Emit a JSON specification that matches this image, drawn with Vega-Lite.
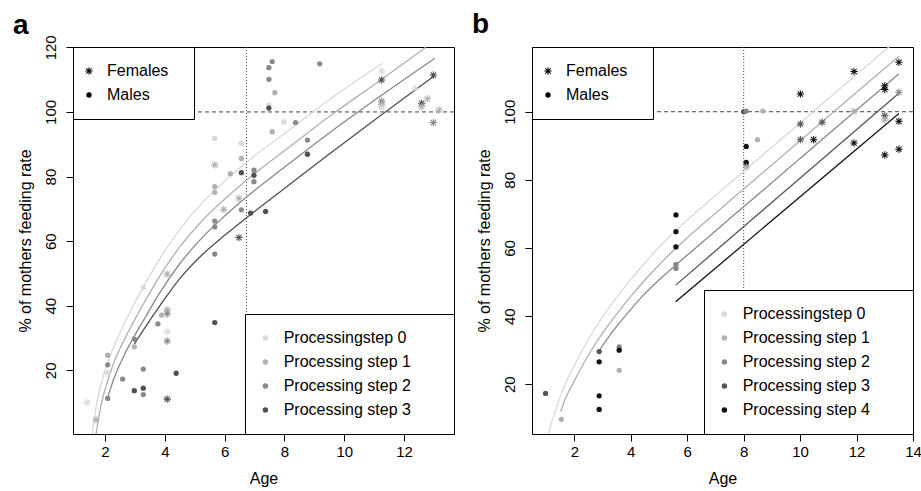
{
  "$schema": "https://vega.github.io/schema/vega-lite/v6.json",
  "padding": {"left": 12, "top": 10, "right": 0, "bottom": 0},
  "spacing": 16,
  "datasets": {
    "points": [
      {"panel": "a", "sex": "Females", "step": "Processingstep 0", "age": 1.40, "value": 10.1},
      {"panel": "a", "sex": "Females", "step": "Processing step 1", "age": 1.70, "value": 4.7},
      {"panel": "a", "sex": "Males", "step": "Processing step 1", "age": 2.09, "value": 24.7},
      {"panel": "a", "sex": "Males", "step": "Processing step 2", "age": 2.09, "value": 21.7},
      {"panel": "a", "sex": "Males", "step": "Processingstep 0", "age": 2.09, "value": 19.2},
      {"panel": "a", "sex": "Males", "step": "Processing step 2", "age": 2.09, "value": 11.3},
      {"panel": "a", "sex": "Males", "step": "Processing step 2", "age": 2.59, "value": 17.3},
      {"panel": "a", "sex": "Males", "step": "Processing step 2", "age": 2.98, "value": 29.7},
      {"panel": "a", "sex": "Males", "step": "Processing step 1", "age": 2.98, "value": 27.3},
      {"panel": "a", "sex": "Males", "step": "Processing step 3", "age": 2.98, "value": 13.7},
      {"panel": "a", "sex": "Males", "step": "Processingstep 0", "age": 3.28, "value": 45.7},
      {"panel": "a", "sex": "Males", "step": "Processing step 2", "age": 3.28, "value": 20.4},
      {"panel": "a", "sex": "Males", "step": "Processing step 3", "age": 3.28, "value": 14.5},
      {"panel": "a", "sex": "Males", "step": "Processing step 2", "age": 3.28, "value": 12.5},
      {"panel": "a", "sex": "Males", "step": "Processing step 2", "age": 3.77, "value": 34.4},
      {"panel": "a", "sex": "Males", "step": "Processing step 1", "age": 3.89, "value": 37.1},
      {"panel": "a", "sex": "Females", "step": "Processing step 1", "age": 4.08, "value": 49.8},
      {"panel": "a", "sex": "Females", "step": "Processing step 1", "age": 4.08, "value": 38.8},
      {"panel": "a", "sex": "Females", "step": "Processing step 2", "age": 4.08, "value": 37.5},
      {"panel": "a", "sex": "Females", "step": "Processingstep 0", "age": 4.08, "value": 32.0},
      {"panel": "a", "sex": "Females", "step": "Processing step 2", "age": 4.08, "value": 29.1},
      {"panel": "a", "sex": "Females", "step": "Processing step 3", "age": 4.08, "value": 11.1},
      {"panel": "a", "sex": "Males", "step": "Processing step 3", "age": 4.38, "value": 19.1},
      {"panel": "a", "sex": "Males", "step": "Processingstep 0", "age": 5.67, "value": 91.8},
      {"panel": "a", "sex": "Females", "step": "Processing step 1", "age": 5.67, "value": 83.6},
      {"panel": "a", "sex": "Males", "step": "Processing step 1", "age": 5.67, "value": 76.9},
      {"panel": "a", "sex": "Males", "step": "Processing step 1", "age": 5.67, "value": 75.1},
      {"panel": "a", "sex": "Males", "step": "Processing step 2", "age": 5.67, "value": 66.2},
      {"panel": "a", "sex": "Males", "step": "Processing step 2", "age": 5.67, "value": 64.4},
      {"panel": "a", "sex": "Males", "step": "Processing step 2", "age": 5.67, "value": 56.0},
      {"panel": "a", "sex": "Males", "step": "Processing step 3", "age": 5.67, "value": 34.8},
      {"panel": "a", "sex": "Males", "step": "Processing step 1", "age": 6.19, "value": 80.9},
      {"panel": "a", "sex": "Females", "step": "Processing step 1", "age": 5.97, "value": 69.8},
      {"panel": "a", "sex": "Females", "step": "Processing step 1", "age": 6.48, "value": 73.3},
      {"panel": "a", "sex": "Females", "step": "Processing step 3", "age": 6.48, "value": 61.1},
      {"panel": "a", "sex": "Males", "step": "Processingstep 0", "age": 6.56, "value": 90.3},
      {"panel": "a", "sex": "Males", "step": "Processing step 1", "age": 6.56, "value": 85.6},
      {"panel": "a", "sex": "Males", "step": "Processing step 3", "age": 6.56, "value": 81.2},
      {"panel": "a", "sex": "Males", "step": "Processing step 2", "age": 6.56, "value": 69.7},
      {"panel": "a", "sex": "Males", "step": "Processing step 3", "age": 6.87, "value": 68.7},
      {"panel": "a", "sex": "Males", "step": "Processing step 2", "age": 6.98, "value": 82.0},
      {"panel": "a", "sex": "Males", "step": "Processing step 3", "age": 6.98, "value": 80.4},
      {"panel": "a", "sex": "Males", "step": "Processing step 2", "age": 6.98, "value": 78.4},
      {"panel": "a", "sex": "Males", "step": "Processing step 3", "age": 7.37, "value": 69.2},
      {"panel": "a", "sex": "Males", "step": "Processing step 2", "age": 7.48, "value": 113.7},
      {"panel": "a", "sex": "Males", "step": "Processing step 2", "age": 7.48, "value": 110.1},
      {"panel": "a", "sex": "Males", "step": "Processingstep 0", "age": 7.48, "value": 102.1},
      {"panel": "a", "sex": "Males", "step": "Processing step 3", "age": 7.48, "value": 101.2},
      {"panel": "a", "sex": "Males", "step": "Processing step 2", "age": 7.59, "value": 115.6},
      {"panel": "a", "sex": "Males", "step": "Processing step 1", "age": 7.68, "value": 106.0},
      {"panel": "a", "sex": "Males", "step": "Processing step 1", "age": 7.59, "value": 93.9},
      {"panel": "a", "sex": "Males", "step": "Processingstep 0", "age": 7.98, "value": 96.9},
      {"panel": "a", "sex": "Males", "step": "Processing step 2", "age": 8.37, "value": 96.7},
      {"panel": "a", "sex": "Males", "step": "Processing step 2", "age": 9.18, "value": 114.9},
      {"panel": "a", "sex": "Males", "step": "Processing step 2", "age": 8.77, "value": 91.3},
      {"panel": "a", "sex": "Males", "step": "Processing step 3", "age": 8.77, "value": 86.9},
      {"panel": "a", "sex": "Females", "step": "Processingstep 0", "age": 11.25, "value": 112.7},
      {"panel": "a", "sex": "Females", "step": "Processing step 3", "age": 11.25, "value": 109.9},
      {"panel": "a", "sex": "Females", "step": "Processing step 2", "age": 11.25, "value": 103.3},
      {"panel": "a", "sex": "Females", "step": "Processing step 1", "age": 11.25, "value": 102.2},
      {"panel": "a", "sex": "Females", "step": "Processingstep 0", "age": 11.25, "value": 101.3},
      {"panel": "a", "sex": "Females", "step": "Processingstep 0", "age": 12.37, "value": 107.3},
      {"panel": "a", "sex": "Females", "step": "Processing step 3", "age": 12.59, "value": 102.7},
      {"panel": "a", "sex": "Females", "step": "Processing step 1", "age": 12.59, "value": 101.6},
      {"panel": "a", "sex": "Females", "step": "Processing step 1", "age": 12.78, "value": 104.1},
      {"panel": "a", "sex": "Females", "step": "Processing step 3", "age": 12.98, "value": 111.4},
      {"panel": "a", "sex": "Females", "step": "Processing step 2", "age": 12.98, "value": 96.7},
      {"panel": "a", "sex": "Females", "step": "Processing step 1", "age": 13.17, "value": 100.6},
      {"panel": "b", "sex": "Males", "step": "Processing step 3", "age": 0.98, "value": 17.3},
      {"panel": "b", "sex": "Males", "step": "Processing step 1", "age": 1.54, "value": 9.7},
      {"panel": "b", "sex": "Males", "step": "Processing step 3", "age": 2.88, "value": 29.6},
      {"panel": "b", "sex": "Males", "step": "Processing step 4", "age": 2.88, "value": 26.6},
      {"panel": "b", "sex": "Males", "step": "Processing step 4", "age": 2.88, "value": 16.6},
      {"panel": "b", "sex": "Males", "step": "Processing step 4", "age": 2.88, "value": 12.6},
      {"panel": "b", "sex": "Males", "step": "Processing step 2", "age": 3.59, "value": 31.0},
      {"panel": "b", "sex": "Males", "step": "Processing step 4", "age": 3.59, "value": 30.0},
      {"panel": "b", "sex": "Males", "step": "Processing step 1", "age": 3.59, "value": 24.1},
      {"panel": "b", "sex": "Males", "step": "Processing step 4", "age": 5.6, "value": 69.7},
      {"panel": "b", "sex": "Males", "step": "Processing step 4", "age": 5.6, "value": 64.8},
      {"panel": "b", "sex": "Males", "step": "Processing step 4", "age": 5.6, "value": 60.3},
      {"panel": "b", "sex": "Males", "step": "Processing step 2", "age": 5.6, "value": 55.2},
      {"panel": "b", "sex": "Males", "step": "Processing step 2", "age": 5.6, "value": 54.0},
      {"panel": "b", "sex": "Males", "step": "Processing step 3", "age": 8.0, "value": 100.0},
      {"panel": "b", "sex": "Males", "step": "Processing step 2", "age": 8.09, "value": 100.2},
      {"panel": "b", "sex": "Males", "step": "Processing step 1", "age": 8.68, "value": 100.2},
      {"panel": "b", "sex": "Males", "step": "Processing step 1", "age": 8.49, "value": 91.8},
      {"panel": "b", "sex": "Males", "step": "Processing step 4", "age": 8.09, "value": 89.8},
      {"panel": "b", "sex": "Males", "step": "Processing step 4", "age": 8.09, "value": 85.1},
      {"panel": "b", "sex": "Males", "step": "Processing step 4", "age": 8.09, "value": 84.6},
      {"panel": "b", "sex": "Females", "step": "Processing step 1", "age": 8.09, "value": 83.8},
      {"panel": "b", "sex": "Females", "step": "Processing step 4", "age": 10.01, "value": 105.2},
      {"panel": "b", "sex": "Females", "step": "Processing step 3", "age": 10.01, "value": 96.4},
      {"panel": "b", "sex": "Females", "step": "Processing step 3", "age": 10.01, "value": 91.8},
      {"panel": "b", "sex": "Females", "step": "Processing step 4", "age": 10.48, "value": 91.8},
      {"panel": "b", "sex": "Females", "step": "Processing step 3", "age": 10.78, "value": 96.9},
      {"panel": "b", "sex": "Females", "step": "Processing step 4", "age": 11.91, "value": 111.8},
      {"panel": "b", "sex": "Females", "step": "Processing step 1", "age": 11.91, "value": 100.1},
      {"panel": "b", "sex": "Females", "step": "Processing step 4", "age": 11.91, "value": 90.8},
      {"panel": "b", "sex": "Females", "step": "Processing step 4", "age": 13.0, "value": 107.6},
      {"panel": "b", "sex": "Females", "step": "Processing step 4", "age": 13.0, "value": 106.5},
      {"panel": "b", "sex": "Females", "step": "Processing step 3", "age": 13.0, "value": 98.8},
      {"panel": "b", "sex": "Females", "step": "Processing step 1", "age": 13.0, "value": 97.6},
      {"panel": "b", "sex": "Females", "step": "Processing step 4", "age": 13.0, "value": 87.3},
      {"panel": "b", "sex": "Females", "step": "Processing step 4", "age": 13.5, "value": 114.5},
      {"panel": "b", "sex": "Females", "step": "Processing step 2", "age": 13.5, "value": 105.7},
      {"panel": "b", "sex": "Females", "step": "Processing step 4", "age": 13.5, "value": 97.2},
      {"panel": "b", "sex": "Females", "step": "Processing step 4", "age": 13.5, "value": 89.0}
    ],
    "curves": [
      {"panel": "a", "step": "Processingstep 0", "age": 1.55, "value": -1.0},
      {"panel": "a", "step": "Processingstep 0", "age": 1.7, "value": 8.5},
      {"panel": "a", "step": "Processingstep 0", "age": 1.85, "value": 15.0},
      {"panel": "a", "step": "Processingstep 0", "age": 2.0, "value": 20.0},
      {"panel": "a", "step": "Processingstep 0", "age": 2.3, "value": 27.5},
      {"panel": "a", "step": "Processingstep 0", "age": 2.7, "value": 35.5},
      {"panel": "a", "step": "Processingstep 0", "age": 3.27, "value": 45.6},
      {"panel": "a", "step": "Processingstep 0", "age": 3.85, "value": 54.8},
      {"panel": "a", "step": "Processingstep 0", "age": 4.5, "value": 63.6},
      {"panel": "a", "step": "Processingstep 0", "age": 5.25, "value": 71.9},
      {"panel": "a", "step": "Processingstep 0", "age": 6.0, "value": 78.5},
      {"panel": "a", "step": "Processingstep 0", "age": 7.0, "value": 86.4},
      {"panel": "a", "step": "Processingstep 0", "age": 8.0, "value": 93.3},
      {"panel": "a", "step": "Processingstep 0", "age": 9.5, "value": 103.8},
      {"panel": "a", "step": "Processingstep 0", "age": 11.27, "value": 115.1},
      {"panel": "a", "step": "Processing step 1", "age": 1.68, "value": -1.0},
      {"panel": "a", "step": "Processing step 1", "age": 1.85, "value": 8.5},
      {"panel": "a", "step": "Processing step 1", "age": 2.0, "value": 14.0},
      {"panel": "a", "step": "Processing step 1", "age": 2.3, "value": 22.5},
      {"panel": "a", "step": "Processing step 1", "age": 2.7, "value": 30.5},
      {"panel": "a", "step": "Processing step 1", "age": 3.27, "value": 40.3},
      {"panel": "a", "step": "Processing step 1", "age": 3.85, "value": 49.5},
      {"panel": "a", "step": "Processing step 1", "age": 4.5, "value": 58.2},
      {"panel": "a", "step": "Processing step 1", "age": 5.25, "value": 66.3},
      {"panel": "a", "step": "Processing step 1", "age": 6.0, "value": 73.0},
      {"panel": "a", "step": "Processing step 1", "age": 7.0, "value": 80.9},
      {"panel": "a", "step": "Processing step 1", "age": 8.0, "value": 88.0},
      {"panel": "a", "step": "Processing step 1", "age": 9.5, "value": 98.6},
      {"panel": "a", "step": "Processing step 1", "age": 11.27, "value": 110.2},
      {"panel": "a", "step": "Processing step 1", "age": 12.73, "value": 120.0},
      {"panel": "a", "step": "Processing step 2", "age": 2.07, "value": 11.1},
      {"panel": "a", "step": "Processing step 2", "age": 2.3, "value": 17.5},
      {"panel": "a", "step": "Processing step 2", "age": 2.7, "value": 25.8},
      {"panel": "a", "step": "Processing step 2", "age": 3.27, "value": 35.2},
      {"panel": "a", "step": "Processing step 2", "age": 3.85, "value": 44.3},
      {"panel": "a", "step": "Processing step 2", "age": 4.5, "value": 53.0},
      {"panel": "a", "step": "Processing step 2", "age": 5.25, "value": 61.1},
      {"panel": "a", "step": "Processing step 2", "age": 6.0, "value": 67.8},
      {"panel": "a", "step": "Processing step 2", "age": 7.0, "value": 75.7},
      {"panel": "a", "step": "Processing step 2", "age": 8.0, "value": 82.9},
      {"panel": "a", "step": "Processing step 2", "age": 9.5, "value": 93.5},
      {"panel": "a", "step": "Processing step 2", "age": 11.27, "value": 105.3},
      {"panel": "a", "step": "Processing step 2", "age": 13.03, "value": 116.6},
      {"panel": "a", "step": "Processing step 3", "age": 2.98, "value": 28.1},
      {"panel": "a", "step": "Processing step 3", "age": 3.27, "value": 32.3},
      {"panel": "a", "step": "Processing step 3", "age": 3.85, "value": 40.2},
      {"panel": "a", "step": "Processing step 3", "age": 4.5, "value": 48.4},
      {"panel": "a", "step": "Processing step 3", "age": 5.25, "value": 55.8},
      {"panel": "a", "step": "Processing step 3", "age": 6.0, "value": 61.8},
      {"panel": "a", "step": "Processing step 3", "age": 7.0, "value": 69.2},
      {"panel": "a", "step": "Processing step 3", "age": 8.0, "value": 76.3},
      {"panel": "a", "step": "Processing step 3", "age": 9.5, "value": 87.0},
      {"panel": "a", "step": "Processing step 3", "age": 11.27, "value": 99.3},
      {"panel": "a", "step": "Processing step 3", "age": 13.03, "value": 111.3},
      {"panel": "b", "step": "Processingstep 0", "age": 1.0, "value": 2.5},
      {"panel": "b", "step": "Processingstep 0", "age": 1.087, "value": 5.5},
      {"panel": "b", "step": "Processingstep 0", "age": 1.3, "value": 11.5},
      {"panel": "b", "step": "Processingstep 0", "age": 1.6, "value": 18.5},
      {"panel": "b", "step": "Processingstep 0", "age": 2.0, "value": 25.5},
      {"panel": "b", "step": "Processingstep 0", "age": 2.5, "value": 33.2},
      {"panel": "b", "step": "Processingstep 0", "age": 3.0, "value": 39.8},
      {"panel": "b", "step": "Processingstep 0", "age": 3.5, "value": 45.5},
      {"panel": "b", "step": "Processingstep 0", "age": 4.0, "value": 50.8},
      {"panel": "b", "step": "Processingstep 0", "age": 4.5, "value": 55.6},
      {"panel": "b", "step": "Processingstep 0", "age": 5.0, "value": 60.2},
      {"panel": "b", "step": "Processingstep 0", "age": 5.5, "value": 64.3},
      {"panel": "b", "step": "Processingstep 0", "age": 6.0, "value": 68.2},
      {"panel": "b", "step": "Processingstep 0", "age": 7.0, "value": 75.4},
      {"panel": "b", "step": "Processingstep 0", "age": 8.0, "value": 82.5},
      {"panel": "b", "step": "Processingstep 0", "age": 10.0, "value": 96.7},
      {"panel": "b", "step": "Processingstep 0", "age": 12.0, "value": 110.9},
      {"panel": "b", "step": "Processingstep 0", "age": 13.3, "value": 120.1},
      {"panel": "b", "step": "Processing step 1", "age": 1.52, "value": 12.0},
      {"panel": "b", "step": "Processing step 1", "age": 1.6, "value": 14.0},
      {"panel": "b", "step": "Processing step 1", "age": 2.0, "value": 21.0},
      {"panel": "b", "step": "Processing step 1", "age": 2.5, "value": 28.6},
      {"panel": "b", "step": "Processing step 1", "age": 3.0, "value": 35.0},
      {"panel": "b", "step": "Processing step 1", "age": 3.5, "value": 40.6},
      {"panel": "b", "step": "Processing step 1", "age": 4.0, "value": 45.8},
      {"panel": "b", "step": "Processing step 1", "age": 4.5, "value": 50.6},
      {"panel": "b", "step": "Processing step 1", "age": 5.0, "value": 55.0},
      {"panel": "b", "step": "Processing step 1", "age": 5.5, "value": 59.2},
      {"panel": "b", "step": "Processing step 1", "age": 6.0, "value": 63.0},
      {"panel": "b", "step": "Processing step 1", "age": 7.0, "value": 70.2},
      {"panel": "b", "step": "Processing step 1", "age": 8.0, "value": 77.3},
      {"panel": "b", "step": "Processing step 1", "age": 10.0, "value": 91.5},
      {"panel": "b", "step": "Processing step 1", "age": 12.0, "value": 105.7},
      {"panel": "b", "step": "Processing step 1", "age": 13.5, "value": 116.3},
      {"panel": "b", "step": "Processing step 2", "age": 2.9, "value": 30.0},
      {"panel": "b", "step": "Processing step 2", "age": 3.0, "value": 31.3},
      {"panel": "b", "step": "Processing step 2", "age": 3.5, "value": 37.0},
      {"panel": "b", "step": "Processing step 2", "age": 4.0, "value": 42.0},
      {"panel": "b", "step": "Processing step 2", "age": 4.5, "value": 46.6},
      {"panel": "b", "step": "Processing step 2", "age": 5.0, "value": 50.6},
      {"panel": "b", "step": "Processing step 2", "age": 5.5, "value": 54.3},
      {"panel": "b", "step": "Processing step 2", "age": 6.0, "value": 57.9},
      {"panel": "b", "step": "Processing step 2", "age": 7.0, "value": 65.0},
      {"panel": "b", "step": "Processing step 2", "age": 8.0, "value": 72.1},
      {"panel": "b", "step": "Processing step 2", "age": 10.0, "value": 86.3},
      {"panel": "b", "step": "Processing step 2", "age": 12.0, "value": 100.5},
      {"panel": "b", "step": "Processing step 2", "age": 13.5, "value": 111.1},
      {"panel": "b", "step": "Processing step 3", "age": 5.59, "value": 49.1},
      {"panel": "b", "step": "Processing step 3", "age": 13.5, "value": 105.4},
      {"panel": "b", "step": "Processing step 4", "age": 5.59, "value": 44.2},
      {"panel": "b", "step": "Processing step 4", "age": 13.5, "value": 99.5}
    ],
    "refs": [
      {"panel": "a", "hline": 100, "vline": 6.73},
      {"panel": "b", "hline": 100, "vline": 8.0}
    ]
  },
  "hconcat": [
    {
      "width": 381,
      "height": 387,
      "title": {"text": "a", "anchor": "start", "frame": "group", "dx": -60, "offset": -27, "baseline": "alphabetic", "fontSize": 28, "fontWeight": "bold", "font": "Liberation Sans", "color": "black"},
      "layer": [
        {
          "data": {"name": "refs"},
          "transform": [{"filter": "datum.panel == 'a'"}],
          "mark": {"type": "rule", "strokeDash": [4, 3], "color": "#444444", "strokeWidth": 1},
          "encoding": {"y": {"field": "hline", "type": "quantitative"}}
        },
        {
          "data": {"name": "refs"},
          "transform": [{"filter": "datum.panel == 'a'"}],
          "mark": {"type": "rule", "strokeDash": [1, 2], "color": "#444444", "strokeWidth": 1},
          "encoding": {"x": {"field": "vline", "type": "quantitative"}}
        },
        {
          "data": {"name": "curves"},
          "transform": [{"filter": "datum.panel == 'a'"}],
          "mark": {"type": "line", "strokeWidth": 1.3, "interpolate": "monotone", "clip": true},
          "encoding": {
            "x": {"field": "age", "type": "quantitative"},
            "y": {"field": "value", "type": "quantitative"},
            "stroke": {"field": "step", "type": "nominal",
              "scale": {"domain": ["Processingstep 0", "Processing step 1", "Processing step 2", "Processing step 3"], "range": ["#d9d9d9", "#b0b0b0", "#888888", "#505050"]}}
          }
        },
        {
          "data": {"name": "points"},
          "transform": [{"filter": "datum.panel == 'a'"}],
          "mark": {"type": "point", "filled": true, "opacity": 1, "clip": true},
          "encoding": {
            "x": {"field": "age", "type": "quantitative", "title": "Age",
              "scale": {"domain": [0.93, 13.67], "nice": false, "zero": false},
              "axis": {"values": [2, 4, 6, 8, 10, 12]}},
            "y": {"field": "value", "type": "quantitative", "title": "% of mothers feeding rate",
              "scale": {"domain": [0.3, 120.1], "nice": false, "zero": false},
              "axis": {"values": [20, 40, 60, 80, 100, 120]}},
            "fill": {"field": "step", "type": "nominal",
              "scale": {"domain": ["Processingstep 0", "Processing step 1", "Processing step 2", "Processing step 3"], "range": ["#d9d9d9", "#b0b0b0", "#888888", "#505050"]},
              "legend": {"title": null, "orient": "bottom-right", "offset": 0, "padding": 16, "fillColor": "white", "strokeColor": "black",
                "labelFontSize": 16, "labelOffset": 10.3, "symbolOffset": -3.6, "rowPadding": 8, "symbolType": "circle", "symbolSize": 30, "symbolStrokeWidth": 0, "labelLimit": 400,
                "labelExpr": "datum.label + '      \u200b'"}},
            "shape": {"field": "sex", "type": "nominal",
              "scale": {"domain": ["Females", "Males"], "range": ["M-1,-0.14L1,-0.14L1,0.14L-1,0.14ZM-0.14,-1L0.14,-1L0.14,1L-0.14,1ZM-0.62,-0.82L0.82,0.62L0.62,0.82L-0.82,-0.62ZM-0.82,0.62L0.62,-0.82L0.82,-0.62L-0.62,0.82Z", "circle"]},
              "legend": {"title": null, "orient": "top-left", "offset": 0, "padding": 16, "fillColor": "white", "strokeColor": "black",
                "labelFontSize": 16, "labelOffset": 10, "symbolOffset": -8, "rowPadding": 8, "labelLimit": 300,
                "symbolFillColor": "#222222", "symbolStrokeWidth": 0,
                "labelExpr": "datum.label + '  \u200b'"}},
            "size": {"field": "sex", "type": "ordinal",
              "scale": {"domain": ["Females", "Males"], "range": [55, 28]}}
          }
        }
      ]
    },
    {
      "width": 381,
      "height": 387,
      "title": {"text": "b", "anchor": "start", "frame": "group", "dx": -60, "offset": -14.5, "baseline": "alphabetic", "fontSize": 28, "fontWeight": "bold", "font": "Liberation Sans", "color": "black"},
      "layer": [
        {
          "data": {"name": "refs"},
          "transform": [{"filter": "datum.panel == 'b'"}],
          "mark": {"type": "rule", "strokeDash": [4, 3], "color": "#444444", "strokeWidth": 1},
          "encoding": {"y": {"field": "hline", "type": "quantitative"}}
        },
        {
          "data": {"name": "refs"},
          "transform": [{"filter": "datum.panel == 'b'"}],
          "mark": {"type": "rule", "strokeDash": [1, 2], "color": "#444444", "strokeWidth": 1},
          "encoding": {"x": {"field": "vline", "type": "quantitative"}}
        },
        {
          "data": {"name": "curves"},
          "transform": [{"filter": "datum.panel == 'b'"}],
          "mark": {"type": "line", "strokeWidth": 1.3, "interpolate": "monotone", "clip": true},
          "encoding": {
            "x": {"field": "age", "type": "quantitative"},
            "y": {"field": "value", "type": "quantitative"},
            "stroke": {"field": "step", "type": "nominal",
              "scale": {"domain": ["Processingstep 0", "Processing step 1", "Processing step 2", "Processing step 3", "Processing step 4"], "range": ["#d9d9d9", "#b0b0b0", "#888888", "#555555", "#111111"]}}
          }
        },
        {
          "data": {"name": "points"},
          "transform": [{"filter": "datum.panel == 'b'"}],
          "mark": {"type": "point", "filled": true, "opacity": 1, "clip": true},
          "encoding": {
            "x": {"field": "age", "type": "quantitative", "title": "Age",
              "scale": {"domain": [0.5, 14.0], "nice": false, "zero": false},
              "axis": {"values": [2, 4, 6, 8, 10, 12, 14]}},
            "y": {"field": "value", "type": "quantitative", "title": "% of mothers feeding rate",
              "scale": {"domain": [5.4, 119.0], "nice": false, "zero": false},
              "axis": {"values": [20, 40, 60, 80, 100]}},
            "fill": {"field": "step", "type": "nominal",
              "scale": {"domain": ["Processingstep 0", "Processing step 1", "Processing step 2", "Processing step 3", "Processing step 4"], "range": ["#d9d9d9", "#b0b0b0", "#888888", "#555555", "#111111"]},
              "legend": {"title": null, "orient": "bottom-right", "offset": 0, "padding": 16, "fillColor": "white", "strokeColor": "black",
                "labelFontSize": 16, "labelOffset": 10.3, "symbolOffset": -3.6, "rowPadding": 8, "symbolType": "circle", "symbolSize": 30, "symbolStrokeWidth": 0, "labelLimit": 400,
                "labelExpr": "datum.label + '      \u200b'"}},
            "shape": {"field": "sex", "type": "nominal",
              "scale": {"domain": ["Females", "Males"], "range": ["M-1,-0.14L1,-0.14L1,0.14L-1,0.14ZM-0.14,-1L0.14,-1L0.14,1L-0.14,1ZM-0.62,-0.82L0.82,0.62L0.62,0.82L-0.82,-0.62ZM-0.82,0.62L0.62,-0.82L0.82,-0.62L-0.62,0.82Z", "circle"]},
              "legend": {"title": null, "orient": "top-left", "offset": 0, "padding": 16, "fillColor": "white", "strokeColor": "black",
                "labelFontSize": 16, "labelOffset": 10, "symbolOffset": -8, "rowPadding": 8, "labelLimit": 300,
                "symbolFillColor": "#222222", "symbolStrokeWidth": 0,
                "labelExpr": "datum.label + '  \u200b'"}},
            "size": {"field": "sex", "type": "ordinal",
              "scale": {"domain": ["Females", "Males"], "range": [55, 28]}}
          }
        }
      ]
    }
  ],
  "resolve": {
    "scale": {"fill": "independent", "stroke": "independent", "shape": "independent", "size": "independent", "x": "independent", "y": "independent"},
    "legend": {"fill": "independent", "shape": "independent", "stroke": "independent", "size": "independent"}
  },
  "config": {
    "font": "Liberation Sans",
    "view": {"stroke": "black", "strokeWidth": 1},
    "axis": {"domain": false, "grid": false, "ticks": true, "tickColor": "black", "tickSize": 7, "tickWidth": 1,
      "labelFont": "Liberation Sans", "labelFontSize": 15, "labelColor": "black", "labelOverlap": false, "labelFlush": false,
      "titleFont": "Liberation Sans", "titleFontSize": 16, "titleFontWeight": "normal", "titleColor": "black"},
    "axisX": {"labelPadding": 3, "titlePadding": 11},
    "axisY": {"labelAngle": -90, "labelAlign": "center", "labelBaseline": "bottom", "labelPadding": 8, "titlePadding": 10},
    "legend": {"labelFont": "Liberation Sans", "labelColor": "black"}
  }
}
